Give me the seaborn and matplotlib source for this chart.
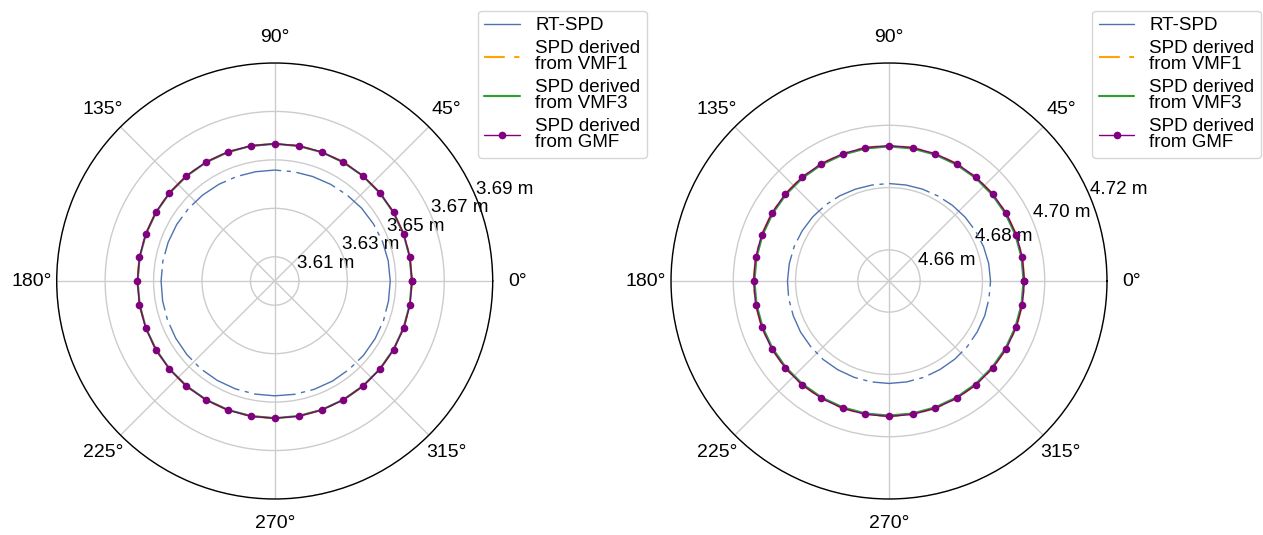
import numpy as np
import pandas as pd
import matplotlib
matplotlib.use("Agg")
import matplotlib.pyplot as plt
from matplotlib.lines import Line2D
from matplotlib.ticker import FuncFormatter
import seaborn as sns

# Azimuth of each slant path delay sample (degrees); the first value is repeated to close the ring
azimuth_deg = [0, 10, 20, 30, 40, 50, 60, 70, 80, 90, 100, 110, 120, 130, 140, 150, 160, 170,
               180, 190, 200, 210, 220, 230, 240, 250, 260, 270, 280, 290, 300, 310, 320, 330,
               340, 350, 360]

# Station 1 slant path delays (m)
rt_spd_1 = [3.6477, 3.6476, 3.6474, 3.6471, 3.6468, 3.6464, 3.6461, 3.6459, 3.6458, 3.6458,
            3.6458, 3.6459, 3.6461, 3.6463, 3.6465, 3.6467, 3.6468, 3.6469, 3.6469, 3.6470,
            3.6471, 3.6472, 3.6473, 3.6474, 3.6474, 3.6474, 3.6474, 3.6474, 3.6475, 3.6476,
            3.6477, 3.6477, 3.6478, 3.6478, 3.6478, 3.6477, 3.6477]
vmf1_1 = [3.6567, 3.6567, 3.6567, 3.6567, 3.6567, 3.6567, 3.6567, 3.6567, 3.6567, 3.6567,
          3.6567, 3.6567, 3.6567, 3.6567, 3.6567, 3.6567, 3.6567, 3.6567, 3.6567, 3.6567,
          3.6567, 3.6567, 3.6567, 3.6567, 3.6567, 3.6567, 3.6567, 3.6567, 3.6567, 3.6567,
          3.6567, 3.6567, 3.6567, 3.6567, 3.6567, 3.6567, 3.6567]
vmf3_1 = [3.6566, 3.6566, 3.6566, 3.6566, 3.6566, 3.6566, 3.6566, 3.6566, 3.6566, 3.6566,
          3.6566, 3.6566, 3.6566, 3.6566, 3.6566, 3.6566, 3.6566, 3.6566, 3.6566, 3.6566,
          3.6566, 3.6566, 3.6566, 3.6566, 3.6566, 3.6566, 3.6566, 3.6566, 3.6566, 3.6566,
          3.6566, 3.6566, 3.6566, 3.6566, 3.6566, 3.6566, 3.6566]
gmf_1 = [3.6567, 3.6567, 3.6567, 3.6567, 3.6567, 3.6567, 3.6567, 3.6567, 3.6567, 3.6567,
         3.6567, 3.6567, 3.6567, 3.6567, 3.6567, 3.6567, 3.6567, 3.6567, 3.6567, 3.6567,
         3.6567, 3.6567, 3.6567, 3.6567, 3.6567, 3.6567, 3.6567, 3.6567, 3.6567, 3.6567,
         3.6567, 3.6567, 3.6567, 3.6567, 3.6567, 3.6567, 3.6567]

# Station 2 slant path delays (m)
rt_spd_2 = [4.6826, 4.6825, 4.6823, 4.6821, 4.6819, 4.6817, 4.6815, 4.6814, 4.6813, 4.6813,
            4.6813, 4.6814, 4.6816, 4.6818, 4.6820, 4.6822, 4.6824, 4.6825, 4.6826, 4.6827,
            4.6827, 4.6828, 4.6828, 4.6829, 4.6829, 4.6829, 4.6829, 4.6829, 4.6829, 4.6829,
            4.6828, 4.6828, 4.6828, 4.6827, 4.6827, 4.6826, 4.6826]
vmf1_2 = [4.6935, 4.6935, 4.6935, 4.6935, 4.6935, 4.6935, 4.6935, 4.6935, 4.6935, 4.6935,
          4.6935, 4.6935, 4.6935, 4.6935, 4.6935, 4.6935, 4.6935, 4.6935, 4.6935, 4.6935,
          4.6935, 4.6935, 4.6935, 4.6935, 4.6935, 4.6935, 4.6935, 4.6935, 4.6935, 4.6935,
          4.6935, 4.6935, 4.6935, 4.6935, 4.6935, 4.6935, 4.6935]
vmf3_2 = [4.6932, 4.6932, 4.6932, 4.6932, 4.6932, 4.6932, 4.6932, 4.6932, 4.6932, 4.6932,
          4.6932, 4.6932, 4.6932, 4.6932, 4.6932, 4.6932, 4.6932, 4.6932, 4.6932, 4.6932,
          4.6932, 4.6932, 4.6932, 4.6932, 4.6932, 4.6932, 4.6932, 4.6932, 4.6932, 4.6932,
          4.6932, 4.6932, 4.6932, 4.6932, 4.6932, 4.6932, 4.6932]
gmf_2 = [4.6935, 4.6935, 4.6935, 4.6935, 4.6935, 4.6935, 4.6935, 4.6935, 4.6935, 4.6935,
         4.6935, 4.6935, 4.6935, 4.6935, 4.6935, 4.6935, 4.6935, 4.6935, 4.6935, 4.6935,
         4.6935, 4.6935, 4.6935, 4.6935, 4.6935, 4.6935, 4.6935, 4.6935, 4.6935, 4.6935,
         4.6935, 4.6935, 4.6935, 4.6935, 4.6935, 4.6935, 4.6935]

# Radial ticks and limits for each panel
rticks_1 = [3.61, 3.63, 3.65, 3.67, 3.69]
rlim_1 = (3.60, 3.69)
rticks_2 = [4.66, 4.68, 4.70, 4.72]
rlim_2 = (4.65, 4.72)

series_labels = ["RT-SPD", "SPD derived\nfrom VMF1", "SPD derived\nfrom VMF3", "SPD derived\nfrom GMF"]

sns.set_theme(style="whitegrid")
plt.rcParams["font.family"] = ["Liberation Sans", "DejaVu Sans"]
plt.rcParams.update({
    "text.color": "black",
    "xtick.color": "black",
    "ytick.color": "black",
    "axes.edgecolor": "black",
    "axes.linewidth": 1.0,
    "grid.color": "#cccccc",
    "grid.linewidth": 1.0,
})

C_RT = "#4c72b0"
C_VMF1 = "orange"
C_VMF3 = "#2ca02c"
C_GMF = "purple"

fig = plt.figure(figsize=(12.63, 5.35), dpi=100)
ax_size = (436 / 1263, 436 / 535)
axes = [
    fig.add_axes([56.7 / 1263, 36 / 535, *ax_size], projection="polar"),
    fig.add_axes([671 / 1263, 36 / 535, *ax_size], projection="polar"),
]

panels = [
    (rt_spd_1, vmf1_1, vmf3_1, gmf_1, rticks_1, rlim_1),
    (rt_spd_2, vmf1_2, vmf3_2, gmf_2, rticks_2, rlim_2),
]

theta = np.deg2rad(azimuth_deg)

for ax, (rt, v1, v3, gm, rticks, rlim) in zip(axes, panels):
    df = pd.DataFrame({"theta": theta, "rt": rt, "vmf1": v1, "vmf3": v3, "gmf": gm})

    sns.lineplot(data=df, x="theta", y="rt", ax=ax, color=C_RT, lw=1.0,
                 dashes=(30, 4, 3, 4), sort=False, legend=False)
    sns.lineplot(data=df, x="theta", y="vmf1", ax=ax, color=C_VMF1, lw=1.5,
                 dashes=(10, 4.5, 2.5, 4.5), sort=False, legend=False)
    sns.lineplot(data=df, x="theta", y="vmf3", ax=ax, color=C_VMF3, lw=1.5,
                 sort=False, legend=False)
    sns.lineplot(data=df, x="theta", y="gmf", ax=ax, color=C_GMF, lw=1.0,
                 marker="o", markersize=5.5, markeredgewidth=0, sort=False, legend=False)

    ax.set_xlabel("")
    ax.set_ylabel("")
    ax.set_ylim(*rlim)
    ax.set_yticks(rticks)
    ax.yaxis.set_major_formatter(FuncFormatter(lambda v, p: f"{v:.2f} m"))
    ax.set_xticks(np.deg2rad([0, 45, 90, 135, 180, 225, 270, 315]))
    ax.set_xticklabels(["0°", "45°", "90°", "135°", "180°", "225°", "270°", "315°"])
    ax.tick_params(axis="x", labelsize=14, pad=5)
    ax.tick_params(axis="y", labelsize=13.5)
    ax.grid(True, color="#cccccc", lw=1.0)
    ax.spines["polar"].set_color("black")
    ax.spines["polar"].set_linewidth(1.0)

    handles = [
        Line2D([], [], color=C_RT, lw=1.0),
        Line2D([], [], color=C_VMF1, lw=1.5, dashes=(10, 4.5, 2.5, 4.5)),
        Line2D([], [], color=C_VMF3, lw=1.5),
        Line2D([], [], color=C_GMF, lw=1.0, marker="o", markersize=5.5, markeredgewidth=0),
    ]
    leg = ax.legend(handles, series_labels, loc="upper left", bbox_to_anchor=(0.966, 1.12),
                    borderaxespad=0, fontsize=13.5, handlelength=1.9, labelspacing=0.3,
                    borderpad=0.35, frameon=True)
    for txt in leg.get_texts():
        txt.set_linespacing(0.95)

fig.savefig("out.png", dpi=100)
